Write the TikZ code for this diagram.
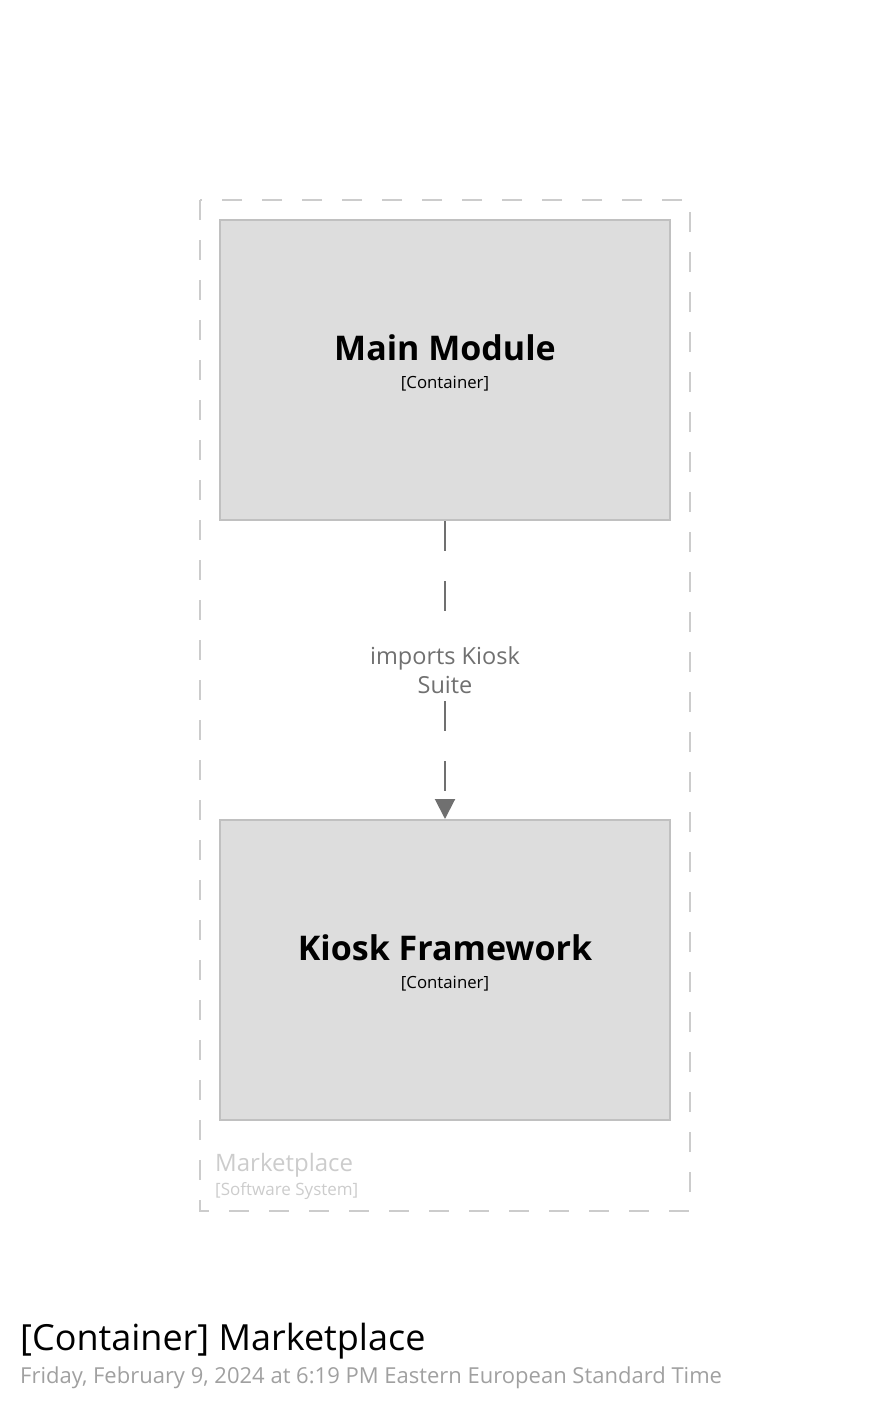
\documentclass[tikz,border=0pt]{standalone}
\usepackage{fontspec}
\setmainfont{Open Sans}
\usetikzlibrary{arrows.meta}
\definecolor{boxfill}{HTML}{DDDDDD}
\definecolor{boxline}{HTML}{C0C0C0}
\definecolor{bound}{HTML}{CCCCCC}
\definecolor{relcol}{HTML}{707070}
\definecolor{datecol}{HTML}{A0A0A0}
\tikzset{
  container/.style={draw=boxline, fill=boxfill, line width=2pt, minimum width=450pt, minimum height=300pt, inner sep=0pt},
  boundary/.style={draw=bound, line width=2pt, dash pattern=on 20pt off 20pt},
  rel/.style={draw=relcol, line width=2pt, dash pattern=on 30pt off 30pt, -{Triangle[width=20pt,length=20pt]}},
  rellabel/.style={fill=white, text=relcol, font=\fontsize{23.5}{29}\selectfont, align=center, inner xsep=2pt, inner ysep=5pt},
  ctitle/.style={font=\fontsize{34}{40}\selectfont\bfseries, anchor=base},
  ctype/.style={font=\fontsize{16.8}{20}\selectfont, anchor=base},
}
\begin{document}
\begin{tikzpicture}[x=1pt, y=-1pt]
\useasboundingbox (0,0) rectangle (890,1411);
\draw[boundary] (200,200) rectangle (690,1211);
\node[container] (mm) at (445,370) {};
\node[container] (kf) at (445,970) {};
\node[ctitle] (mmt) at (445,360) {Main Module};
\node[ctype] (mmc) at (445,388) {[Container]};
\node[ctitle] (kft) at (445,960) {Kiosk Framework};
\node[ctype] (kfc) at (445,988) {[Container]};
\draw[rel] (mm.south) -- (kf.north) node[midway, rellabel] (lbl) {imports Kiosk\\Suite};
\node[anchor=base west, text=bound, font=\fontsize{24}{28}\selectfont, inner sep=0pt] (bt) at (215,1171) {Marketplace};
\node[anchor=base west, text=bound, font=\fontsize{17}{20}\selectfont, inner sep=0pt] (bc) at (215,1195) {[Software System]};
\node[anchor=base west, font=\fontsize{36}{40}\selectfont, inner sep=0pt] (title) at (20,1350) {[Container] Marketplace};
\node[anchor=base west, text=datecol, font=\fontsize{22}{26}\selectfont, inner sep=0pt] (date) at (20,1383) {Friday, February 9, 2024 at 6:19 PM Eastern European Standard Time};
\end{tikzpicture}
\end{document}
